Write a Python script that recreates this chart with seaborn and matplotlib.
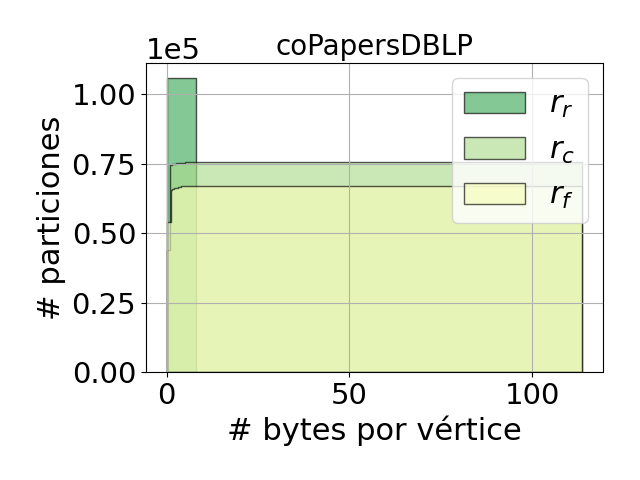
import numpy as np
import pandas as pd
import matplotlib
matplotlib.use("Agg")
import matplotlib.pyplot as plt
import seaborn as sns

# ---- data (cumulative counts at bin right edges) ----
labels = [r"$r_r$", r"$r_c$", r"$r_f$"]
colors = ["#41ab5d", "#addd8e", "#f7fcb9"]

rr_edges = [0.0, 7.9]
rr_cum = [1.06e5]

rc_edges = [0.0, 0.9, 1.5, 2.5, 3.5, 5.0, 113.7]
rc_cum = [0.44e5, 0.745e5, 0.750e5, 0.752e5, 0.754e5, 0.755e5]

rf_edges = [0.0, 1.1, 1.4, 2.0, 3.0, 4.0, 5.5, 113.7]
rf_cum = [0.54e5, 0.655e5, 0.660e5, 0.664e5, 0.667e5, 0.669e5, 0.670e5]

title = "coPapersDBLP"
xlabel = "# bytes por vértice"
ylabel = "# particiones"

series = [(rr_edges, rr_cum), (rc_edges, rc_cum), (rf_edges, rf_cum)]

fig, ax = plt.subplots(figsize=(6.4, 4.8), dpi=100)
fig.subplots_adjust(left=0.228, right=0.942, bottom=0.225, top=0.869)

for (edges, cum), lab, col in zip(series, labels, colors):
    e = np.asarray(edges, dtype=float)
    counts = np.diff(np.concatenate([[0.0], cum]))
    mids = (e[:-1] + e[1:]) / 2
    df = pd.DataFrame({"x": mids, "w": counts})
    sns.histplot(data=df, x="x", weights="w", bins=list(edges), cumulative=True,
                 element="step", fill=True, color=col, alpha=0.65,
                 edgecolor=(0, 0, 0, 0.65), linewidth=1.0, label=lab, ax=ax)

ax.grid(True)
ax.set_title(title, fontsize=20)
ax.set_xlabel(xlabel, fontsize=22)
ax.set_ylabel(ylabel, fontsize=22)
ax.tick_params(labelsize=21)
ax.ticklabel_format(axis="y", style="sci", scilimits=(0, 0))
ax.yaxis.get_offset_text().set_fontsize(21)
ax.set_xticks([0, 50, 100])
ax.legend(loc="upper right", fontsize=22)

fig.savefig("out.png", dpi=100)
